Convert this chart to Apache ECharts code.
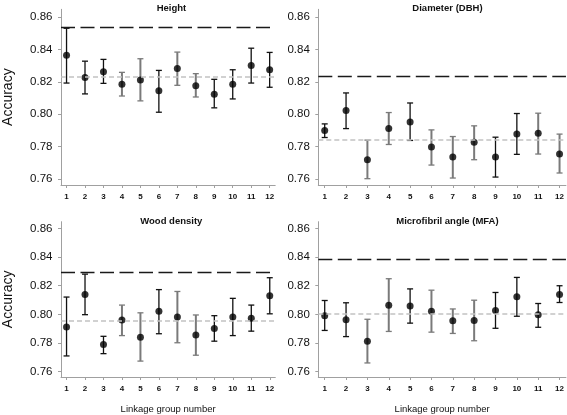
<!DOCTYPE html>
<html><head><meta charset="utf-8">
<script src="https://cdn.jsdelivr.net/npm/echarts@6/dist/echarts.min.js"></script>
<style>html,body{margin:0;padding:0;background:#fff}#c{width:567px;height:415px}</style>
</head><body><div id="c"></div>
<script>
const categories = [1,2,3,4,5,6,7,8,9,10,11,12];
const yTicks = [0.76,0.78,0.80,0.82,0.84,0.86];
const panelTitles = ["Height","Diameter (DBH)","Wood density","Microfibril angle (MFA)"];

const heightMean = [0.8364,0.8227,0.8262,0.8184,0.8211,0.8145,0.8282,0.8176,0.8123,0.8184,0.8301,0.8274];
const heightLow  = [0.8192,0.8125,0.8190,0.8112,0.8082,0.8012,0.8178,0.8106,0.8039,0.8094,0.8192,0.8166];
const heightHigh = [0.8530,0.8327,0.8338,0.8258,0.8342,0.8270,0.8383,0.8250,0.8215,0.8274,0.8407,0.8381];
const heightGroup = [0,0,0,1,1,0,1,1,0,0,0,0];

const dbhMean = [0.7899,0.8022,0.7719,0.7911,0.7952,0.7797,0.7735,0.7827,0.7735,0.7877,0.7883,0.7754];
const dbhLow  = [0.7856,0.7911,0.7602,0.7813,0.7838,0.7686,0.7606,0.7719,0.7612,0.7752,0.7754,0.7637];
const dbhHigh = [0.7940,0.8131,0.7840,0.8010,0.8069,0.7903,0.7862,0.7928,0.7858,0.8004,0.8006,0.7877];
const dbhGroup = [0,0,1,1,0,1,1,1,0,0,1,1];

const woodMean = [0.7912,0.8139,0.7789,0.7960,0.7840,0.8022,0.7982,0.7856,0.7901,0.7982,0.7973,0.8130];
const woodLow  = [0.7710,0.7998,0.7726,0.7852,0.7674,0.7865,0.7802,0.7715,0.7813,0.7852,0.7883,0.8004];
const woodHigh = [0.8121,0.8281,0.7847,0.8065,0.8011,0.8173,0.8160,0.7996,0.7991,0.8112,0.8065,0.8256];
const woodGroup = [0,0,0,1,1,0,1,1,0,0,0,0];

const mfaMean = [0.7991,0.7962,0.7813,0.8063,0.8058,0.8022,0.7955,0.7957,0.8027,0.8124,0.7998,0.8139];
const mfaLow  = [0.7888,0.7845,0.7661,0.7881,0.7939,0.7876,0.7867,0.7816,0.7903,0.7987,0.7910,0.8083];
const mfaHigh = [0.8097,0.8081,0.7966,0.8249,0.8178,0.8169,0.8038,0.8099,0.8153,0.8258,0.8076,0.8200];
const mfaGroup = [0,0,1,1,0,1,1,1,0,0,0,0];

const refBlack = [0.8535,0.8233,0.8294,0.8382];
const refGrey  = [0.8229,0.7842,0.7955,0.8007];

const panels = [
  {mean:heightMean, low:heightLow, high:heightHigh, group:heightGroup},
  {mean:dbhMean, low:dbhLow, high:dbhHigh, group:dbhGroup},
  {mean:woodMean, low:woodLow, high:woodHigh, group:woodGroup},
  {mean:mfaMean, low:mfaLow, high:mfaHigh, group:mfaGroup}
];

const grids = [
  {left:57.7, top:9.3, width:217.5, height:175.7},
  {left:318.3, top:9.3, width:248.3, height:175.7},
  {left:57.3, top:221.7, width:218, height:161.3},
  {left:318.3, top:221.7, width:248.3, height:161.3}
];
const FONT = "Liberation Sans, Arial, sans-serif";
const axisCol = '#a0a0a0';

const xAxes = [], yAxes = [], series = [], titles = [];
grids.forEach((g,i)=>{
  const bottomRow = i>=2;
  xAxes.push({
    type:'value', gridIndex:i, min:0.7, max:12.3,
    name: bottomRow ? 'Linkage group number' : '',
    nameLocation:'middle', nameGap:27,
    nameTextStyle:{fontFamily:FONT, fontSize:9.5, color:'#111'},
    axisLine:{show:true, onZero:false, lineStyle:{color:axisCol, width:1}},
    axisTick:{show:true, length:3, lineStyle:{color:axisCol}, customValues:categories},
    axisLabel:{show:true, customValues:categories, fontFamily:FONT, fontSize:8, fontWeight:'bold', color:'#111', margin:8},
    splitLine:{show:false}
  });
  yAxes.push({
    type:'value', gridIndex:i, min:0.7563, max:0.8647,
    name: (i%2===0) ? 'Accuracy' : '',
    nameLocation:'middle', nameGap:46, nameRotate:90,
    nameTextStyle:{fontFamily:FONT, fontSize:14, color:'#111'},
    axisLine:{show:true, onZero:false, lineStyle:{color:axisCol, width:1}},
    axisTick:{show:true, length:3, lineStyle:{color:axisCol}, customValues:yTicks},
    axisLabel:{show:true, customValues:yTicks, formatter:v=>v.toFixed(2), fontFamily:FONT, fontSize:11.5, color:'#111', margin:8.5},
    splitLine:{show:false}
  });
  titles.push({
    text:panelTitles[i], left:g.left + g.width/2, top: g.top - 10.5, textAlign:'center',
    textStyle:{fontFamily:FONT, fontSize:9.5, fontWeight:'bold', color:'#111'}
  });
  const p = panels[i];
  series.push({
    type:'line', xAxisIndex:i, yAxisIndex:i, data:[], z:1, silent:true,
    markLine:{
      silent:true, symbol:'none', label:{show:false}, animation:false, precision:4,
      data:[
        {yAxis:refBlack[i], lineStyle:{color:'#1a1a1a', width:1.3, type:[14,5.5]}},
        {yAxis:refGrey[i], lineStyle:{color:'#c2c2c2', width:1.6, type:[5,3]}}
      ]
    }
  });
  series.push({
    type:'custom', xAxisIndex:i, yAxisIndex:i, z:2, silent:true, animation:false,
    data: categories.map((c,k)=>[c, p.low[k], p.high[k], p.group[k]]),
    renderItem:(params, api)=>{
      const x = api.value(0);
      const lo = api.coord([x, api.value(1)]);
      const hi = api.coord([x, api.value(2)]);
      const grey = api.value(3) === 1;
      const style = {stroke: grey ? '#7a7a7a' : '#111', lineWidth: grey ? 2 : 1.3, fill:null};
      const cw = 3;
      return {type:'group', children:[
        {type:'line', shape:{x1:lo[0], y1:lo[1], x2:hi[0], y2:hi[1]}, style},
        {type:'line', shape:{x1:hi[0]-cw, y1:hi[1], x2:hi[0]+cw, y2:hi[1]}, style:{...style, lineWidth:1.3}},
        {type:'line', shape:{x1:lo[0]-cw, y1:lo[1], x2:lo[0]+cw, y2:lo[1]}, style:{...style, lineWidth:1.3}}
      ]};
    }
  });
  series.push({
    type:'scatter', xAxisIndex:i, yAxisIndex:i, z:3, silent:true, animation:false,
    symbol:'circle', symbolSize:7, itemStyle:{color:'#000'},
    data: categories.map((c,k)=>[c, p.mean[k]])
  });
});

const chart = echarts.init(document.getElementById('c'), null, {renderer:'canvas'});
chart.setOption({
  animation:false,
  backgroundColor:'#fff',
  title:titles,
  grid:grids,
  xAxis:xAxes,
  yAxis:yAxes,
  series:series
});
</script>
</body></html>
